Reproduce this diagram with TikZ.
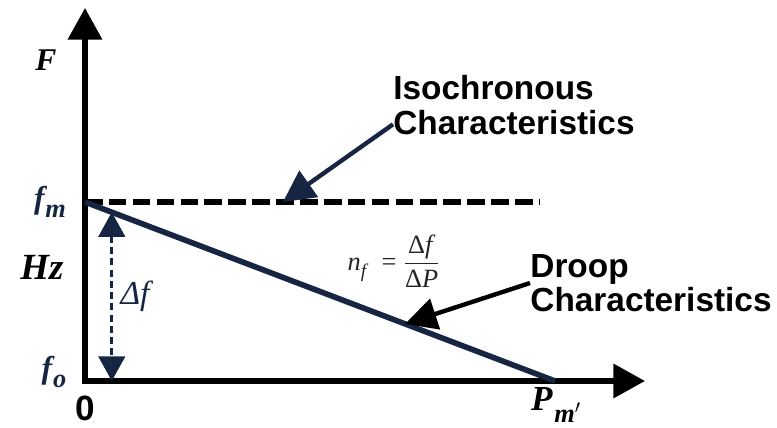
\documentclass[tikz,border=0pt]{standalone}
\usepackage{amsmath}
\usepackage{fontspec}
\setmainfont{Liberation Serif}
\setsansfont{Liberation Sans}
\usepackage{tikz}
\usetikzlibrary{positioning, arrows.meta, calc}
\definecolor{navy}{RGB}{22,38,66}

\begin{document}
\begin{tikzpicture}[
	x=0.02cm, y=-0.02cm,
	axis/.style={
		-{Triangle[length=18pt,width=19pt]},
		line width=3.2pt,
		black
	},
	isoline/.style={
		line width=3.2pt,
		dash pattern=on 10pt off 3.6pt,
		black
	},
	droopline/.style={
		line width=3.2pt,
		navy
	},
	delta/.style={
		{Triangle[length=14pt,width=15pt]}-{Triangle[length=14pt,width=15pt]},
		line width=1.9pt,
		dash pattern=on 4pt off 2.4pt,
		navy
	},
	pointer/.style={
		-{Triangle[length=18pt,width=18pt]},
		line width=2.5pt
	},
	axlabel/.style={
		inner sep=0pt,
		font=\fontsize{18}{18}\selectfont\bfseries\itshape
	},
	callout/.style={
		inner sep=0pt,
		align=left,
		font=\fontsize{19}{19.5}\selectfont\sffamily\bfseries
	}
	]
	\useasboundingbox (0,0) rectangle (777,428);
	% axes
	\coordinate (O) at (85,381);
	\coordinate (yEnd) at (85,8);
	\coordinate (xEnd) at (645,381);
	\coordinate (fm) at (85,202);
	\coordinate (isoEnd) at (540,202);
	\coordinate (pm) at (555,381);
	\draw[axis] ([yshift=-1.6pt]O) -- (yEnd);
	\draw[axis] ([xshift=-1.6pt]O) -- (xEnd);
	% characteristics
	\draw[isoline] (fm) -- (isoEnd);
	\draw[droopline] (fm) -- (pm);
	\coordinate (dfTop) at ($(fm)!0.057!(pm)$);
	\draw[delta] (dfTop) -- (dfTop |- O);
	\node[inner sep=0pt, navy, font=\fontsize{19}{19}\selectfont\itshape] (df) at (135,296)
	{Δf};
	% axis labels
	\node[axlabel] (Flab) at (46,60) {F};
	\node[axlabel, navy] (fmlab) at (50,202)
	{f\kern0.5pt\raisebox{-5pt}{\fontsize{15}{15}\selectfont m}};
	\node[axlabel, font=\fontsize{21}{21}\selectfont\bfseries\itshape] (hz) at (42,267) {Hz};
	\node[axlabel, navy] (folab) at (54,372)
	{f\kern0.5pt\raisebox{-5pt}{\fontsize{15}{15}\selectfont o}};
	\node[inner sep=0pt, font=\fontsize{20}{20}\selectfont\sffamily\bfseries,
	below=0.3cm of O] (zero) {0};
	\node[axlabel, font=\fontsize{20}{20}\selectfont\bfseries\itshape] (pmlab) at (556,405)
	{P\kern1pt\raisebox{-7pt}{\fontsize{15}{15}\selectfont m$'$}};
	% droop formula
	\node[inner sep=0pt, black!85, font=\fontsize{15}{15}\selectfont] (nf) at (394,261)
	{\textit{n}\raisebox{-4pt}{\fontsize{11}{11}\selectfont\textit{f}}\ \ =\
	$\dfrac{\text{Δ\textit{f}}}{\text{Δ\textit{P}}}$};
	% callouts
	\node[callout] (iso) at (514,105) {Isochronous\\Characteristics};
	\node[callout] (droop) at (651,283) {Droop\\Characteristics};
	\coordinate (isoTip) at ($(fm)!0.435!(isoEnd)$);
	\coordinate (droopTip) at ($(fm)!0.681!(pm)$);
	\draw[pointer, navy] ([yshift=-11pt]iso.west) -- (isoTip);
	\draw[pointer, black] (droop.west) -- (droopTip);
\end{tikzpicture}
\end{document}
